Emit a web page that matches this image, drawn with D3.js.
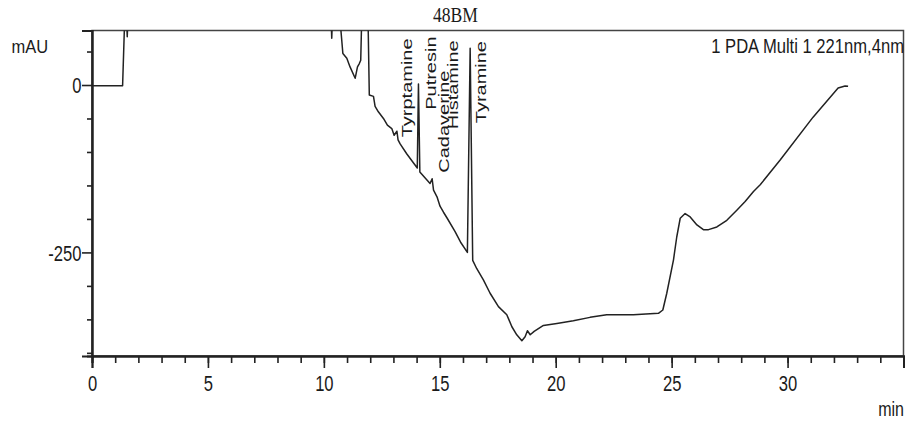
<!DOCTYPE html>
<html lang="en">
<head>
<meta charset="UTF-8">
<script src="https://cdn.jsdelivr.net/npm/d3@7"></script>
<title>48BM</title>
<style>
  body { margin: 0; background: #fff; }
  svg text { font-family: "Liberation Sans", Arial, sans-serif; fill: #1a1a1a; }
</style>
</head>
<body>
<svg></svg>
<script>
  // trace: retention time (min) and signal (mAU)
  // values above the top of the frame are off scale and get clipped
  const times = [0, 1.32, 1.42, 1.48, 1.52, 1.56, 10.30, 10.34, 10.38,
    10.68, 10.74, 10.82, 10.99, 11.13, 11.35, 11.45, 11.53, 11.59, 11.64,
    11.90, 11.96, 12.14, 12.21, 12.35, 12.57, 12.74, 12.93, 13.03, 13.15, 13.20,
    13.29, 13.58, 13.86, 14.03, 14.08, 14.14, 14.37, 14.58, 14.67, 14.73,
    14.88, 15.01, 15.16, 15.32, 15.66, 15.92, 16.19, 16.31, 16.42, 16.59,
    16.88, 17.17, 17.53, 17.89, 18.11, 18.32, 18.54, 18.68, 18.78,
    18.90, 19.07, 19.47, 20.05, 20.76, 21.48, 22.20, 23.35, 24.43, 24.62,
    24.79, 25.08, 25.22, 25.37, 25.58, 25.80, 26.09, 26.37, 26.59, 26.95,
    27.38, 27.81, 28.17, 28.53, 28.82, 29.68, 31.10, 32.18, 32.48, 32.61];
  const signal = [-1, -1, 110, 110, 72, 110, 110, 70, 110,
    110, 80, 47, 40, 27, 10, 27, 32, 37, 110,
    110, -15, -17, -32, -40, -50, -60, -65, -75, -69, -82,
    -88, -103, -116, -124, 1.5, -130, -139, -147, -140, -157,
    -167, -181, -190, -199, -219, -236, -250, 55, -262, -274,
    -291, -311, -331, -343, -361, -373, -382, -376, -367,
    -373, -368, -359, -356, -352, -347, -343, -343, -341, -336,
    -311, -261, -227, -199, -192, -197, -209, -216, -216, -212,
    -202, -187, -174, -159, -149, -112, -48, -4.5, -1.5, -2];

  // peak labels: name, time of the label baseline, signal where the text starts
  const peakNames = ['Tyrptamine', 'Putresin', 'Cadaverine', 'Histamine', 'Tyramine'];
  const labelTimes = [13.82, 14.84, 15.40, 15.79, 16.98];
  const labelLevels = [-78, -37, -131, -66, -57];

  const xMinorTicks = d3.range(0, 36, 1);
  const xMajorTicks = [0, 5, 10, 15, 20, 25, 30, 35];
  const xTickLabels = ['0', '5', '10', '15', '20', '25', '30', ''];
  const yMinorTicks = [50, -50, -100, -150, -200, -300, -350, -400];
  const yMajorTicks = [0, -250];

  const width = 909, height = 423;
  const plotLeft = 92, plotRight = 903.5, plotTop = 30.5, plotBottom = 356;

  const svg = d3.select('svg')
      .attr('width', width)
      .attr('height', height);

  const x = d3.scaleLinear().domain([0, 35]).range([plotLeft, plotRight]);
  const y = d3.scaleLinear().domain([81.4, -404.7]).range([plotTop, plotBottom]);

  // text in the picture is stretched vertically
  function stretchText(sel, px, py, str, size, sy, anchor) {
    return sel.append('text')
      .attr('transform', `translate(${px},${py}) scale(1,${sy})`)
      .attr('text-anchor', anchor)
      .style('font-size', size + 'px')
      .text(str);
  }

  // frame
  svg.append('rect')
    .attr('x', plotLeft).attr('y', plotTop)
    .attr('width', plotRight - plotLeft).attr('height', plotBottom - plotTop)
    .attr('fill', 'none')
    .attr('stroke', '#444')
    .attr('stroke-width', 1.5);

  // x axis: minor + major ticks
  const xMinor = svg.append('g')
    .attr('transform', `translate(0,${plotBottom})`)
    .call(d3.axisBottom(x).tickValues(xMinorTicks).tickSize(7).tickFormat(''));
  const xMajor = svg.append('g')
    .attr('transform', `translate(0,${plotBottom})`)
    .call(d3.axisBottom(x).tickValues(xMajorTicks).tickSize(12)
      .tickFormat((d, i) => xTickLabels[i]));
  xMajor.selectAll('text')
    .attr('y', null).attr('dy', null)
    .attr('transform', 'translate(0,35) scale(1,1.3)')
    .style('font-size', '16.6px');

  // y axis
  const yMinor = svg.append('g')
    .attr('transform', `translate(${plotLeft},0)`)
    .call(d3.axisLeft(y).tickValues(yMinorTicks).tickSize(5).tickFormat(''));
  const yMajor = svg.append('g')
    .attr('transform', `translate(${plotLeft},0)`)
    .call(d3.axisLeft(y).tickValues(yMajorTicks).tickSize(10).tickFormat(d => String(d)));
  yMajor.selectAll('text')
    .attr('x', null).attr('dy', null)
    .attr('transform', 'translate(-10.5,7.7) scale(1,1.3)')
    .style('font-size', '16.6px');

  [xMinor, xMajor, yMinor, yMajor].forEach(g => {
    g.selectAll('path, line').attr('stroke', '#222').attr('stroke-width', 1.6);
    g.select('.domain').attr('stroke-width', 2);
    g.selectAll('text').attr('fill', '#1a1a1a').style('font-family', '"Liberation Sans", Arial, sans-serif');
  });

  // trace
  svg.append('clipPath').attr('id', 'plot-clip')
    .append('rect')
    .attr('x', plotLeft).attr('y', plotTop)
    .attr('width', plotRight - plotLeft).attr('height', plotBottom - plotTop);

  const line = d3.line()
    .x(i => x(times[i]))
    .y(i => y(signal[i]));

  svg.append('path')
    .attr('clip-path', 'url(#plot-clip)')
    .attr('d', line(d3.range(times.length)))
    .attr('fill', 'none')
    .attr('stroke', '#222')
    .attr('stroke-width', 1.5)
    .attr('stroke-linejoin', 'round');

  // rotated peak labels
  svg.append('g')
    .selectAll('text')
    .data(peakNames)
    .enter()
    .append('text')
    .attr('transform', (d, i) =>
      `translate(${x(labelTimes[i])},${y(labelLevels[i])}) rotate(-90) scale(1.25,0.9)`)
    .style('font-size', '16px')
    .text(d => d);

  // titles
  stretchText(svg, 455.5, 21.7, '48BM', 17.6, 1.15, 'middle')
    .style('font-family', '"Liberation Serif", "Times New Roman", serif');
  stretchText(svg, 904, 53.3, '1 PDA Multi 1 221nm,4nm', 16.6, 1.26, 'end');
  stretchText(svg, 11.5, 53.3, 'mAU', 16.5, 1.15, 'start');
  stretchText(svg, 904, 416, 'min', 16, 1.25, 'end');
</script>
</body>
</html>
